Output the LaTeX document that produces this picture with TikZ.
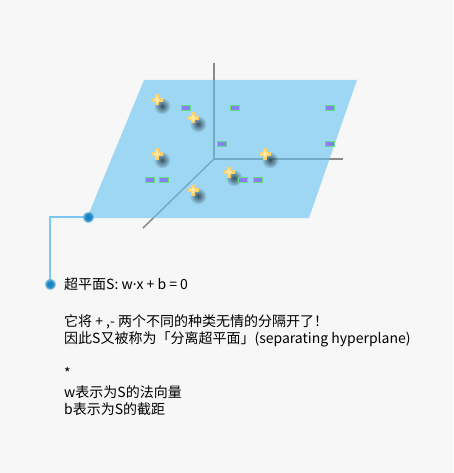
\documentclass[tikz,border=0pt]{standalone}
\usepackage{fontspec}
\setmainfont{Noto Sans CJK SC}
\newfontfamily\latinfont{Noto Sans}
\usetikzlibrary{fadings}

\definecolor{bgcol}{HTML}{F7F7F7}
\definecolor{planeblue}{HTML}{63C3F2}
\definecolor{axisgray}{HTML}{8A8A8A}
\definecolor{plusyellow}{HTML}{FDD26C}
\definecolor{pluslight}{HTML}{FFE9A6}
\definecolor{minusfill}{HTML}{8A7FF2}
\definecolor{minusedge}{HTML}{62DE86}
\definecolor{linkblue}{HTML}{7CC8F0}
\definecolor{dotblue}{HTML}{1784C4}
\definecolor{shadowcol}{HTML}{1C2A33}

% soft round fadings for glows and shadows
\pgfdeclareradialshading{softshade}{\pgfpointorigin}{color(0bp)=(pgftransparent!0); color(8bp)=(pgftransparent!0); color(25bp)=(pgftransparent!100); color(50bp)=(pgftransparent!100)}
\pgfdeclarefading{soft}{\pgfuseshading{softshade}}
\pgfdeclareradialshading{blurshade}{\pgfpointorigin}{color(0bp)=(pgftransparent!15); color(25bp)=(pgftransparent!100); color(50bp)=(pgftransparent!100)}
\pgfdeclarefading{blur}{\pgfuseshading{blurshade}}

\tikzset{
  axis/.style={draw=axisgray, line width=1.5pt},
  minus/.style={rectangle, draw=minusedge, fill=minusfill, line width=0.9pt, minimum width=8.5pt, minimum height=4.5pt, inner sep=0pt},
  link/.style={draw=linkblue, line width=1.3pt},
  glowdot/.style={circle, fill=dotblue, minimum size=12pt, inner sep=0pt, path fading=soft},
  txt/.style={anchor=base west, inner sep=0pt, font=\fontsize{14}{17}\selectfont},
  plus/.pic={
    \fill[shadowcol, fill opacity=0.9, path fading=blur] (5pt,-6pt) circle (8.5pt);
    \draw[plusyellow, line width=3.6pt] (-5.5pt,0) -- (5.5pt,0) (0,-5.5pt) -- (0,5.5pt);
    \draw[pluslight, line width=1.2pt] (-3pt,0) -- (3pt,0) (0,-3pt) -- (0,3pt);
  }
}

\begin{document}
\begin{tikzpicture}[x=1pt, y=-1pt]
\fill[bgcol] (0,0) rectangle (453,473);
\useasboundingbox (0,0) rectangle (453,473);

% axes, seen through the plane
\coordinate (O) at (214,159);
\coordinate (zend) at (214,63);
\coordinate (yend) at (343,159);
\coordinate (xend) at (143,228);
\draw[axis] (zend) -- (O) -- (yend);
\draw[axis] (O) -- (xend);
\fill[planeblue, fill opacity=0.6] (144,80) -- (357,80) -- (309,218) -- (87,218) -- cycle;

% the two classes
\foreach \x/\y in {157/100, 193/118, 157/154, 265/154, 229/172, 193/190}
  \pic at (\x,\y) {plus};
\foreach \x/\y [count=\i] in {186/108, 235/108, 330/108, 222/144, 330/144, 150/180, 164/180, 243/180, 258/180}
  \node[minus] (m\i) at (\x,\y) {};

% callout
\coordinate (bend) at (50,217);
\node[glowdot] (d1) at (88,217) {};
\node[glowdot] (d2) at (50,284) {};
\draw[link] (d1.center) -- (bend) -- (d2.center);
\node[glowdot] at (d1) {};
\node[glowdot] at (d2) {};

\node[txt] (eq) at (64,289) {超平面S: w{\latinfont ·}x + b = 0};
\node[txt] (l1) at (64,326) {它将 + ,- 两个不同的种类无情的分隔开了！};
\node[txt] (l2) at (64,343) {因此S又被称为「分离超平面」(separating hyperplane)};
\node[txt] (star) at (64,378) {*};
\node[txt] (l3) at (64,397) {w表示为S的法向量};
\node[txt] (l4) at (64,414) {b表示为S的截距};
\end{tikzpicture}
\end{document}
